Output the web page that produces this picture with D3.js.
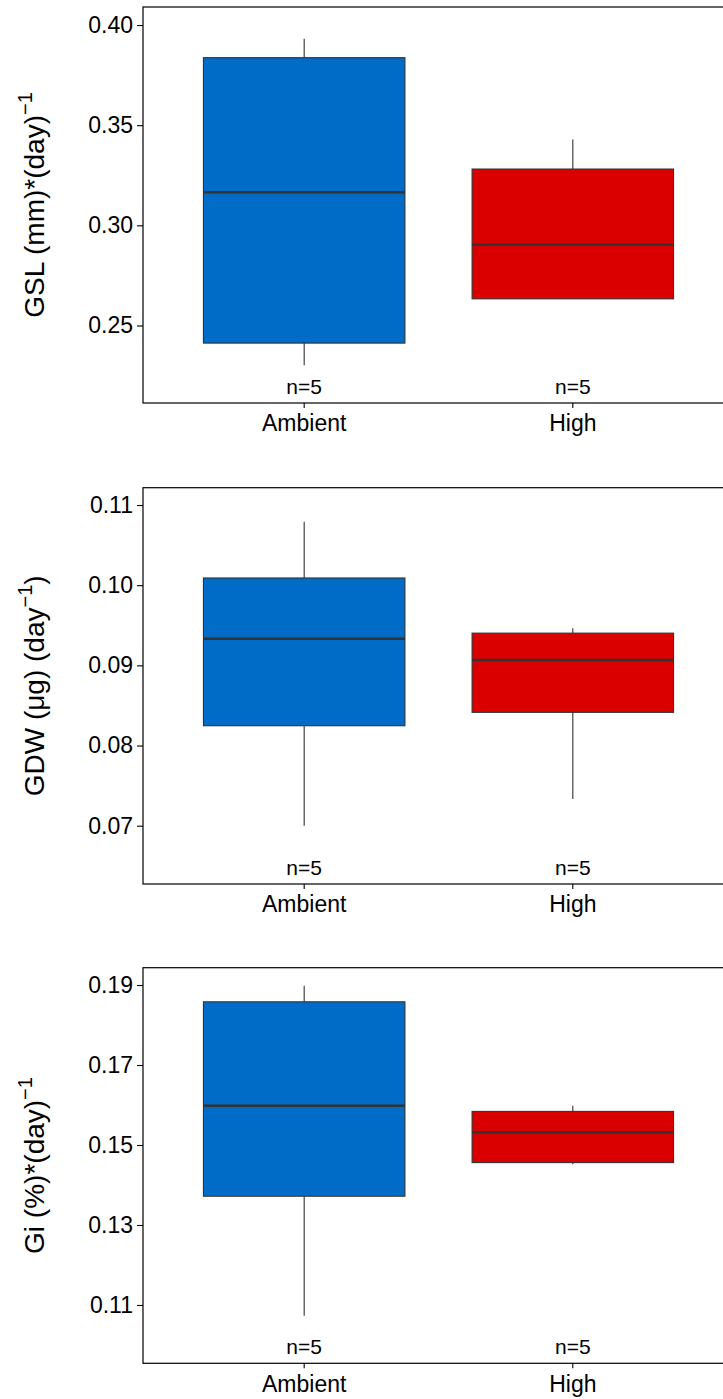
<!DOCTYPE html>
<html>
<head>
<meta charset="utf-8">
<script src="https://cdn.jsdelivr.net/npm/d3@7"></script>
<style>
  html, body { margin: 0; padding: 0; background: #fff; }
  svg { display: block; }
  text { font-family: "Liberation Sans", Arial, sans-serif; }
</style>
</head>
<body>
<svg id="chart" width="723" height="1399"></svg>
<script>
const categories = ["Ambient", "High"];
const groupColors = ["#006CC8", "#DB0000"];

const gslAmbient = [0.2301, 0.2412, 0.3165, 0.3837, 0.3932];
const gslHigh    = [0.2632, 0.2633, 0.2903, 0.3281, 0.3429];

const gdwAmbient = [0.0700, 0.08247, 0.09332, 0.1009, 0.1079];
const gdwHigh    = [0.07333, 0.08414, 0.09067, 0.09402, 0.09462];

const giAmbient  = [0.1073, 0.1372, 0.1598, 0.1858, 0.1898];
const giHigh     = [0.1452, 0.1456, 0.1532, 0.1584, 0.1598];

const gslTicks = [0.25, 0.30, 0.35, 0.40];
const gdwTicks = [0.07, 0.08, 0.09, 0.10, 0.11];
const giTicks  = [0.11, 0.13, 0.15, 0.17, 0.19];

const nLabels = ["n=5", "n=5"];

// ---------- layout ----------
const svg = d3.select("#chart");
const left = 143, right = 734;

const panels = [
  { series: [gslAmbient, gslHigh], ticks: gslTicks, domain: [0.2113, 0.409],
    top: 7, bottom: 403, title: [["GSL (mm)*(day)", false], ["\u22121", true]] },
  { series: [gdwAmbient, gdwHigh], ticks: gdwTicks, domain: [0.06273, 0.11216],
    top: 487.7, bottom: 884, title: [["GDW (\u03BCg) (day", false], ["\u22121", true], [")", false]] },
  { series: [giAmbient, giHigh], ticks: giTicks, domain: [0.09542, 0.19433],
    top: 967.7, bottom: 1363.3, title: [["Gi (%)*(day)", false], ["\u22121", true]] }
];

const x = d3.scaleBand().domain(categories).range([left, right])
  .paddingInner(0.25).paddingOuter(0.225);

panels.forEach(p => {
  const y = d3.scaleLinear().domain(p.domain).range([p.bottom, p.top]);
  const g = svg.append("g");

  // boxes
  p.series.forEach((vals, i) => {
    const s = vals.slice().sort(d3.ascending);
    const q1 = d3.quantile(s, 0.25), med = d3.quantile(s, 0.5), q3 = d3.quantile(s, 0.75);
    const iqr = q3 - q1;
    const lo = d3.min(s.filter(v => v >= q1 - 1.5 * iqr));
    const hi = d3.max(s.filter(v => v <= q3 + 1.5 * iqr));
    const cx = x(categories[i]) + x.bandwidth() / 2;
    // whiskers
    g.append("line").attr("x1", cx).attr("x2", cx).attr("y1", y(hi)).attr("y2", y(q3))
      .attr("stroke", "#333333").attr("stroke-width", 1.1);
    g.append("line").attr("x1", cx).attr("x2", cx).attr("y1", y(q1)).attr("y2", y(lo))
      .attr("stroke", "#333333").attr("stroke-width", 1.1);
    // box
    g.append("rect").attr("x", x(categories[i])).attr("width", x.bandwidth())
      .attr("y", y(q3)).attr("height", y(q1) - y(q3))
      .attr("fill", groupColors[i]).attr("stroke", "#333333").attr("stroke-width", 1.1);
    // median
    g.append("line").attr("x1", x(categories[i])).attr("x2", x(categories[i]) + x.bandwidth())
      .attr("y1", y(med)).attr("y2", y(med))
      .attr("stroke", "#333333").attr("stroke-width", 2.6);
    // n label
    g.append("text").attr("x", cx).attr("y", p.bottom - 9.5)
      .attr("text-anchor", "middle").attr("font-size", 21).attr("fill", "#000")
      .text(nLabels[i]);
  });

  // border
  g.append("rect").attr("x", left).attr("y", p.top)
    .attr("width", right - left).attr("height", p.bottom - p.top)
    .attr("fill", "none").attr("stroke", "#000").attr("stroke-width", 1.2);

  // y axis
  const ya = g.append("g").attr("transform", `translate(${left},0)`)
    .call(d3.axisLeft(y).tickValues(p.ticks).tickFormat(d3.format(".2f")).tickSize(6).tickPadding(4));
  ya.select(".domain").remove();
  ya.selectAll(".tick line").attr("stroke", "#000").attr("stroke-width", 1.1);
  ya.selectAll(".tick text").attr("font-size", 23).attr("fill", "#000")
    .attr("font-family", "Liberation Sans, Arial, sans-serif");

  // x axis
  const xa = g.append("g").attr("transform", `translate(0,${p.bottom})`)
    .call(d3.axisBottom(x).tickSize(5).tickPadding(7));
  xa.select(".domain").remove();
  xa.selectAll(".tick line").attr("stroke", "#000").attr("stroke-width", 1.1);
  xa.selectAll(".tick text").attr("font-size", 23).attr("fill", "#000")
    .attr("font-family", "Liberation Sans, Arial, sans-serif");

  // y title
  const cy = (p.top + p.bottom) / 2;
  const t = g.append("text").attr("transform", `translate(43.5,${cy}) rotate(-90)`)
    .attr("text-anchor", "middle").attr("font-size", 28).attr("fill", "#000");
  p.title.forEach(([str, sup], k) => {
    const ts = t.append("tspan").text(str);
    if (sup) ts.attr("font-size", 20).attr("dy", -12);
    else if (k > 0 && p.title[k - 1][1]) ts.attr("dy", 12);
  });
});
</script>
</body>
</html>
